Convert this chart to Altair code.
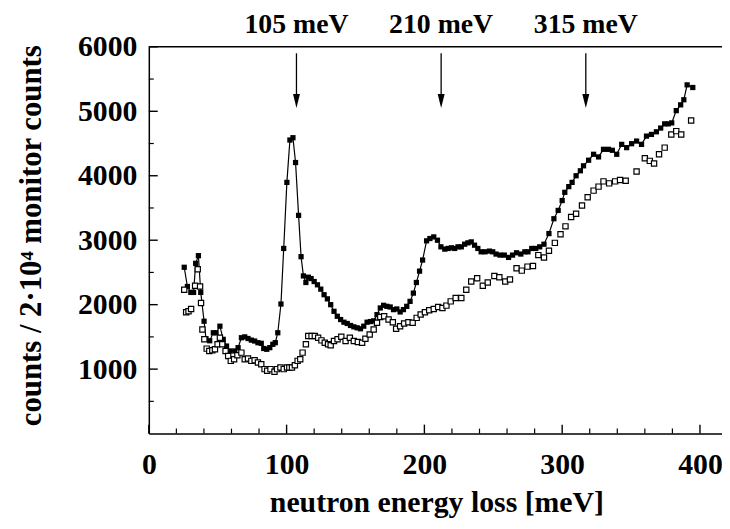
import altair as alt
import pandas as pd

# Sample A (filled squares, connected)
a_x = [25.7, 28.0, 30.5, 32.5, 34.0, 36.0, 37.7, 40.1, 41.5, 44.2,
       46.8, 48.8, 51.6, 54.0, 56.4, 58.8, 62.4, 64.8, 67.2, 69.6,
       72.0, 74.4, 76.8, 79.2, 81.6, 83.4, 85.6, 87.8, 90.0, 91.8,
       93.6, 95.9, 97.9, 100.2, 102.4, 104.6, 106.5, 108.7, 110.5, 112.2,
       114.0, 115.8, 117.8, 120.0, 122.4, 124.8, 127.2, 129.6, 132.0, 134.4,
       136.8, 139.2, 141.6, 144.0, 146.4, 148.8, 151.2, 153.6, 156.0, 158.4,
       160.8, 163.2, 165.6, 168.0, 170.4, 172.8, 175.2, 177.6, 180.0, 182.4,
       184.8, 187.2, 189.6, 192.0, 194.2, 196.5, 198.7, 201.6, 204.0, 206.8,
       209.5, 212.0, 214.8, 217.2, 219.6, 222.0, 224.4, 226.8, 229.2, 231.6,
       234.0, 236.4, 238.8, 241.2, 244.0, 247.2, 249.6, 252.0, 254.9, 258.0,
       261.1, 264.0, 266.9, 270.0, 272.9, 275.2, 277.9, 280.8, 283.7, 286.8,
       290.4, 294.0, 297.1, 300.0, 301.9, 304.8, 307.2, 310.1, 313.2, 315.5,
       319.2, 322.8, 326.4, 330.0, 333.6, 336.4, 339.6, 343.2, 346.8, 350.4,
       354.0, 357.6, 361.2, 364.8, 368.4, 371.5, 374.4, 377.0, 379.5, 382.8,
       386.0, 388.3, 390.7, 394.8]
a_y = [2580, 2282, 2190, 2190, 2641, 2760, 2190, 1743, 1472, 1440,
       1564, 1564, 1666, 1462, 1358, 1282, 1282, 1333, 1487, 1500,
       1475, 1450, 1436, 1410, 1400, 1320, 1308, 1333, 1385, 1410,
       1564, 2010, 2872, 3897, 4554, 4590, 4205, 3385, 2744, 2446,
       2344, 2426, 2405, 2359, 2308, 2241, 2154, 2090, 2000, 1897,
       1820, 1769, 1728, 1708, 1677, 1656, 1641, 1626, 1666, 1728,
       1738, 1749, 1846, 1949, 1990, 1974, 1964, 1923, 1933, 1887,
       1923, 1974, 2051, 2179, 2344, 2520, 2692, 2990, 3026, 3051,
       3000, 2897, 2862, 2872, 2882, 2872, 2897, 2897, 2938, 2959,
       2974, 2923, 2872, 2820, 2820, 2831, 2820, 2785, 2769, 2769,
       2733, 2769, 2805, 2785, 2820, 2820, 2872, 2872, 2897, 2938,
       3103, 3333, 3462, 3615, 3743, 3831, 3897, 4000, 4077, 4154,
       4241, 4333, 4292, 4410, 4410, 4395, 4333, 4487, 4436, 4497,
       4538, 4487, 4615, 4641, 4682, 4740, 4805, 4805, 4820, 5010,
       5100, 5179, 5410, 5369]

# Sample B (open squares)
b_x = [25.7, 27.1, 28.8, 30.7, 33.6, 35.5, 37.2, 37.9, 38.9, 40.3,
       42.0, 43.9, 46.1, 48.0, 49.9, 51.6, 53.3, 55.7, 57.6, 59.5,
       61.9, 64.3, 67.2, 69.6, 72.0, 74.4, 76.8, 79.2, 81.6, 84.0,
       85.9, 88.3, 91.2, 93.1, 95.5, 97.9, 100.3, 102.0, 103.9, 106.0,
       108.0, 109.9, 111.6, 114.0, 115.7, 118.1, 120.5, 122.9, 125.3, 127.7,
       130.1, 132.0, 134.4, 137.0, 139.7, 142.8, 145.9, 148.8, 151.7, 154.8,
       157.2, 160.3, 163.2, 165.6, 168.0, 170.8, 174.0, 177.1, 179.5, 182.4,
       185.3, 188.4, 191.5, 194.4, 197.3, 200.4, 203.5, 206.8, 210.0, 213.1,
       216.0, 219.1, 222.7, 226.8, 230.4, 234.0, 238.3, 242.4, 246.0, 250.8,
       254.4, 258.7, 262.1, 266.9, 270.7, 274.8, 278.8, 282.7, 286.8, 290.4,
       294.7, 298.8, 302.4, 306.5, 310.1, 314.4, 318.5, 322.8, 326.4, 330.0,
       334.1, 338.4, 342.0, 346.1, 354.0, 360.0, 363.6, 366.7, 370.3, 374.4,
       379.2, 382.8, 386.4, 393.6]
b_y = [2231, 1882, 1897, 1933, 2292, 2549, 2282, 2026, 1615, 1462,
       1318, 1282, 1292, 1308, 1385, 1487, 1385, 1282, 1205, 1128,
       1154, 1215, 1256, 1154, 1164, 1128, 1138, 1103, 1077, 1000,
       974, 1000, 959, 1000, 1026, 1000, 1026, 1026, 1026, 1061,
       1128, 1154, 1256, 1385, 1513, 1513, 1513, 1487, 1446, 1410,
       1385, 1369, 1436, 1462, 1503, 1436, 1487, 1436, 1420, 1410,
       1472, 1538, 1615, 1718, 1810, 1820, 1769, 1728, 1626, 1666,
       1708, 1728, 1718, 1795, 1846, 1882, 1913, 1933, 1964, 1949,
       1985, 2051, 2103, 2103, 2231, 2359, 2410, 2292, 2344, 2446,
       2426, 2359, 2390, 2564, 2528, 2590, 2600, 2769, 2733, 2836,
       2959, 3092, 3215, 3359, 3410, 3538, 3667, 3769, 3831, 3913,
       3882, 3913, 3933, 3923, 4067, 4272, 4231, 4190, 4333, 4436,
       4641, 4692, 4641, 4856]

peak_energies = [105, 210, 315]
peak_labels = ["105 meV", "210 meV", "315 meV"]

x_major = [0, 100, 200, 300, 400]
x_minor = [20, 40, 60, 80, 120, 140, 160, 180, 220, 240, 260, 280,
           320, 340, 360, 380]
y_major = [1000, 2000, 3000, 4000, 5000, 6000]
y_minor = [500, 1500, 2500, 3500, 4500, 5500]

FONT = "Liberation Serif"
W, H = 578, 390

xs = alt.Scale(domain=[0, 416], nice=False, zero=False)
ys = alt.Scale(domain=[0, 6000], nice=False)

x_axis = alt.Axis(values=x_major, ticks=False, grid=False, domain=True,
                  domainColor="black", domainWidth=1.5, labelFlush=False,
                  format="d",
                  labelFont=FONT, labelFontSize=30, labelFontWeight="bold",
                  labelColor="black", labelPadding=16,
                  title="neutron energy loss  [meV]", titleFont=FONT,
                  titleFontSize=30, titleFontWeight="bold", titleColor="black",
                  titleX=290, titleY=70, titleAlign="center",
                  titleBaseline="middle")
y_axis = alt.Axis(values=y_major, ticks=False, grid=False, domain=True,
                  domainColor="black", domainWidth=1.5, format="d",
                  labelFont=FONT, labelFontSize=30, labelFontWeight="bold",
                  labelColor="black", labelPadding=12,
                  title="counts / 2·10⁴ monitor counts", titleFont=FONT,
                  titleFontSize=31, titleFontWeight="bold", titleColor="black",
                  titleX=-118, titleY=190, titleAngle=270,
                  titleAlign="center", titleBaseline="middle")


def X(field="x"):
    return alt.X(f"{field}:Q", scale=xs, axis=x_axis)


def Y(field="y"):
    return alt.Y(f"{field}:Q", scale=ys, axis=y_axis)


dfa = pd.DataFrame({"x": a_x, "y": a_y})
dfb = pd.DataFrame({"x": b_x, "y": b_y})

line_a = alt.Chart(dfa).mark_line(color="black", strokeWidth=1.2).encode(x=X(), y=Y())
pts_a = alt.Chart(dfa).mark_square(color="black", opacity=1, size=28).encode(x=X(), y=Y())
pts_b = alt.Chart(dfb).mark_square(filled=True, fill="white", stroke="black",
                                   strokeWidth=1.2, opacity=1, size=28).encode(x=X(), y=Y())

# inward axis ticks (bottom axis at y = 0, left axis at x = 0)
xmaj_df = pd.DataFrame({"x": x_major, "y": [0] * len(x_major)})
xmin_df = pd.DataFrame({"x": x_minor, "y": [0] * len(x_minor)})
ymaj_df = pd.DataFrame({"y": y_major, "x": [0] * len(y_major)})
ymin_df = pd.DataFrame({"y": y_minor, "x": [0] * len(y_minor)})

xmaj = alt.Chart(xmaj_df).mark_tick(color="black", thickness=1.4, size=9,
                                    orient="vertical", opacity=1).encode(
    x=X(), y=Y(), yOffset=alt.value(-4.5))
xmin = alt.Chart(xmin_df).mark_tick(color="black", thickness=1.2, size=5,
                                    orient="vertical", opacity=1).encode(
    x=X(), y=Y(), yOffset=alt.value(-2.5))
ymaj = alt.Chart(ymaj_df).mark_tick(color="black", thickness=1.4, size=9,
                                    orient="horizontal", opacity=1).encode(
    y=Y(), x=X(), xOffset=alt.value(4.5))
ymin = alt.Chart(ymin_df).mark_tick(color="black", thickness=1.2, size=5,
                                    orient="horizontal", opacity=1).encode(
    y=Y(), x=X(), xOffset=alt.value(2.5))

top = alt.Chart(pd.DataFrame({"x": [0], "x2": [416], "y": [6000]})).mark_rule(
    color="black", strokeWidth=1.5).encode(x=X(), x2="x2:Q", y=Y())

ann = pd.DataFrame({"x": peak_energies, "label": peak_labels,
                    "y": [5900] * 3, "y2": [5160] * 3})
arrow_shaft = alt.Chart(ann).mark_rule(color="black", strokeWidth=1.3).encode(
    x=X(), y=Y(), y2="y2:Q", xOffset=alt.value(3))
arrow_head = alt.Chart(ann).mark_point(shape="M-0.5,-1L0.5,-1L0,1Z", filled=True,
                                       color="black", opacity=1, size=196).encode(
    x=X(), y=Y("y2"), xOffset=alt.value(3))
ann_text = alt.Chart(ann).mark_text(font=FONT, fontSize=28, fontWeight="bold",
                                    color="black", align="center",
                                    baseline="middle").encode(
    x=X(), y=alt.value(-22), text="label:N", xOffset=alt.value(3))

chart = alt.layer(line_a, pts_a, pts_b, xmaj, xmin, ymaj, ymin, top,
                  arrow_shaft, arrow_head, ann_text).properties(
    width=W, height=H,
    autosize=alt.AutoSizeParams(type="none"),
    padding={"left": 142, "top": 37, "right": 0, "bottom": 86},
    background="white",
).configure_view(stroke=None)

chart.save("out.html", embed_options={"renderer": "svg", "actions": False})
